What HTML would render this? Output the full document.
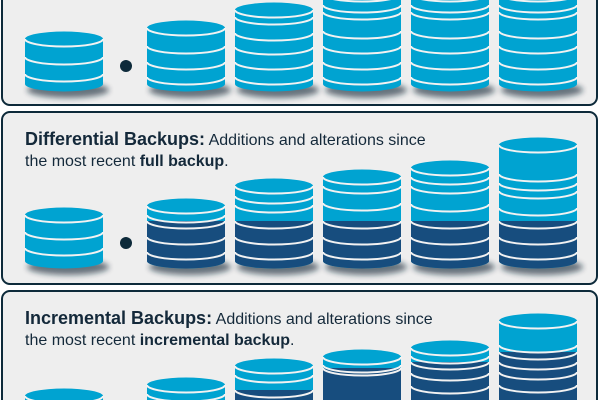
<!DOCTYPE html>
<html><head><meta charset="utf-8"><style>
html,body{margin:0;width:600px;height:400px;overflow:hidden;}
body{background:#fff;position:relative;font-family:"Liberation Sans",sans-serif;}
#w{position:absolute;left:0;top:0;width:600px;height:400px;overflow:hidden;}
.p{position:absolute;left:1px;width:593px;border:2.5px solid #0d2a3a;border-radius:9px;background:#eeeeee;}
.t{position:absolute;left:25px;color:#14293a;font-size:16px;line-height:21px;white-space:nowrap;}
.t b{font-size:18px;}
svg{position:absolute;left:0;top:0;}
</style></head><body><div id="w">
<div class="p" style="top:-20px;height:122px"></div>
<div class="p" style="top:111px;height:170px"></div>
<div class="p" style="top:290px;height:130px"></div>
<div class="t" style="top:129px"><b>Differential Backups:</b> Additions and alterations since<br>the most recent <b style="font-size:16px">full backup</b>.</div>
<div class="t" style="top:308px"><b>Incremental Backups:</b> Additions and alterations since<br>the most recent <b style="font-size:16px">incremental backup</b>.</div>
<svg width="600" height="400" id="s">
<defs><filter id="b" x="-50%" y="-50%" width="200%" height="200%"><feGaussianBlur stdDeviation="3"/></filter></defs>
<circle cx="126" cy="66" r="6" fill="#0d2a3a"/>
<circle cx="126" cy="243" r="6" fill="#0d2a3a"/>
</svg>
</div>
<script>
var L='#00a3d1',D='#174d7e',rx=39,ry=7.5;
var s=document.getElementById('s'),h='';
function cyl(c,top,bot,lines,dark,darkLines){
 var x0=c-rx,x1=c+rx;
 h+='<ellipse cx="'+(c+4)+'" cy="'+(bot+6)+'" rx="'+(rx+2)+'" ry="8" fill="#0a2030" opacity="0.6" filter="url(#b)"/>';
 h+='<path d="M'+x0+','+top+' L'+x0+','+bot+' A'+rx+','+ry+' 0 0 0 '+x1+','+bot+' L'+x1+','+top+' Z" fill="'+L+'"/>';
 if(dark) h+='<path d="M'+x0+','+dark+' L'+x0+','+bot+' A'+rx+','+ry+' 0 0 0 '+x1+','+bot+' L'+x1+','+dark+' Z" fill="'+D+'"/>';
 h+='<ellipse cx="'+c+'" cy="'+top+'" rx="'+rx+'" ry="'+ry+'" fill="'+L+'"/>';
 var all=[top].concat(lines||[]).concat(darkLines||[]);if(dark)all.push(dark);
 all.forEach(function(y){h+='<path d="M'+x0+','+y+' A'+rx+','+ry+' 0 0 0 '+x1+','+y+'" fill="none" stroke="#f2f2f2" stroke-width="2"/>';});
}
cyl(64,39,84,[57,74]);
cyl(186,28,84,[46,62,77]);
cyl(274,10,84,[17,33,47,62,77]);
cyl(362,-6,84,[5,12,31,46,62,77]);
cyl(450,-6,84,[5,12,31,46,62,77]);
cyl(538,-6,84,[5,12,31,46,62,77]);
cyl(64,215,261,[232,248]);
cyl(186,206,261,[215],221,[237,252]);
cyl(274,186,261,[196,205],221,[237,252]);
cyl(362,177,261,[186,203],221,[237,252]);
cyl(450,168,261,[177,186,204],221,[237,252]);
cyl(538,145,261,[174,183,191,208],221,[237,252]);
cyl(64,396,440,[]);
cyl(186,385,440,[394]);
cyl(274,366,440,[375],390,[]);
cyl(362,357,440,[365],368,[]);
cyl(450,348,440,[356],362,[373,386]);
cyl(538,321,440,[345],352,[362,372,385]);
s.insertAdjacentHTML('beforeend',h);
</script>
</body></html>
